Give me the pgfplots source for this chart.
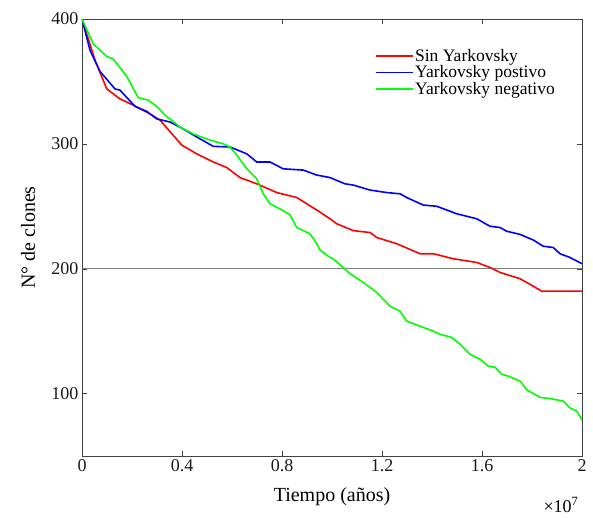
\documentclass[border=0pt]{standalone}
\usepackage{fontspec}
\setmainfont{Liberation Serif}
\usepackage{pgfplots}
\pgfplotsset{compat=1.18}
\definecolor{axgray}{RGB}{64,64,64}
\definecolor{cred}{RGB}{255,0,0}
\definecolor{cblue}{RGB}{0,0,255}
\definecolor{cgreen}{RGB}{0,255,0}
\definecolor{lgray}{RGB}{128,128,128}
\begin{document}
\begin{tikzpicture}
\begin{axis}[
  scale only axis, width=500pt, height=437pt,
  xmin=0, xmax=2e7, ymin=50, ymax=400,
  scaled x ticks=false,
  xtick={0,4e6,8e6,12e6,16e6,20e6},
  xticklabels={0,0.4,0.8,1.2,1.6,2},
  ytick={100,200,300,400},
  tick align=inside, tick pos=both,
  major tick length=5pt,
  axis line style={draw=axgray},
  tick style={draw=axgray},
  font=\fontsize{18}{20}\selectfont,
  tick label style={font=\fontsize{18}{20}\selectfont, text=black!90},
  /pgf/number format/assume math mode=true,
  xlabel={Tiempo (años)}, ylabel={N° de clones},
  xlabel style={at={(axis description cs:0.5,-0.094)}, anchor=center, font=\fontsize{20}{22}\selectfont},
  ylabel style={at={(axis description cs:-0.108,0.5)}, anchor=center, font=\fontsize{20}{22}\selectfont},
  legend style={draw=none, fill=none, at={(0.955,0.94)}, anchor=north east,
    font=\fontsize{17.5}{19}\selectfont, row sep=0pt, nodes={inner sep=1.5pt}},
  legend cell align=left,
  legend image code/.code={\draw[#1] (0cm,0cm) -- (1.3cm,0cm);},
]
\draw[lgray, line width=0.8pt] (axis cs:0,200) -- (axis cs:2e7,200);
\addplot[cred, line width=1.6pt] coordinates {
(0,400) (0.52e6,367) (0.99e6,344) (1.52e6,336) (2.05e6,331) (2.72e6,324) (3.12e6,319)
(3.99e6,299) (4.59e6,292) (5.25e6,285.5) (5.79e6,281) (6.32e6,273) (6.99e6,268)
(7.79e6,261) (8.59e6,257) (9.39e6,247) (9.92e6,240) (10.19e6,236) (10.85e6,230.5)
(11.52e6,229) (11.79e6,225) (12.59e6,220) (13.52e6,212) (14.05e6,212) (14.85e6,208)
(15.79e6,205) (16.32e6,201) (16.72e6,197) (17.52e6,192) (18.05e6,186) (18.39e6,182)
(20e6,182)};
\addlegendentry{Sin Yarkovsky}
\addplot[cblue, line width=1.6pt] coordinates {
(0,400) (0.32e6,375) (0.72e6,358) (1.32e6,344) (1.52e6,343) (2.12e6,330) (2.59e6,326)
(2.99e6,320) (3.52e6,317.5) (4.05e6,312) (4.59e6,305.5) (5.25e6,298) (5.92e6,297.5)
(6.59e6,292) (6.99e6,285.5) (7.52e6,285.5) (8.05e6,280) (8.85e6,279) (9.39e6,275)
(9.92e6,273) (10.52e6,268) (10.85e6,267) (11.52e6,263) (12.19e6,261) (12.72e6,260)
(12.99e6,257) (13.65e6,251) (14.19e6,250) (14.99e6,244) (15.79e6,240) (16.32e6,234)
(16.72e6,233) (16.99e6,230) (17.52e6,227.5) (18.05e6,223) (18.45e6,218) (18.85e6,217)
(19.12e6,212) (19.52e6,209) (20e6,204)};
\addlegendentry{Yarkovsky postivo}
\addplot[cgreen, line width=1.6pt] coordinates {
(0,400) (0.45e6,380) (0.99e6,370) (1.25e6,368) (1.79e6,354) (2.25e6,337) (2.65e6,335)
(2.99e6,330) (3.32e6,323) (3.92e6,313.5) (4.45e6,308) (5.12e6,303) (5.65e6,300)
(5.92e6,297.5) (6.19e6,291) (6.59e6,280) (6.99e6,272) (7.25e6,260) (7.52e6,252)
(8.05e6,246.5) (8.32e6,243) (8.59e6,233) (9.12e6,228) (9.39e6,220) (9.52e6,215)
(9.92e6,209) (10.05e6,208) (10.72e6,196) (11.25e6,189) (11.79e6,181) (12.32e6,170)
(12.72e6,166) (12.99e6,158) (13.52e6,154) (14.05e6,150) (14.32e6,147.5) (14.79e6,145)
(15.12e6,139.5) (15.52e6,131.5) (15.92e6,127.5) (16.25e6,122) (16.52e6,121)
(16.79e6,115.5) (17.05e6,114) (17.52e6,110) (17.79e6,103) (18.32e6,97) (18.72e6,96)
(19.25e6,94) (19.52e6,88.5) (19.79e6,86) (20e6,79)};
\addlegendentry{Yarkovsky negativo}
\end{axis}
\node[font=\fontsize{18}{20}\selectfont] at ([xshift=-21pt,yshift=-49pt]current axis.south east) {×10\textsuperscript{7}};
\pgfresetboundingbox
\path ([shift={(-82pt,-61pt)}]current axis.south west) rectangle ([shift={(11pt,19pt)}]current axis.north east);
\end{tikzpicture}
\end{document}
